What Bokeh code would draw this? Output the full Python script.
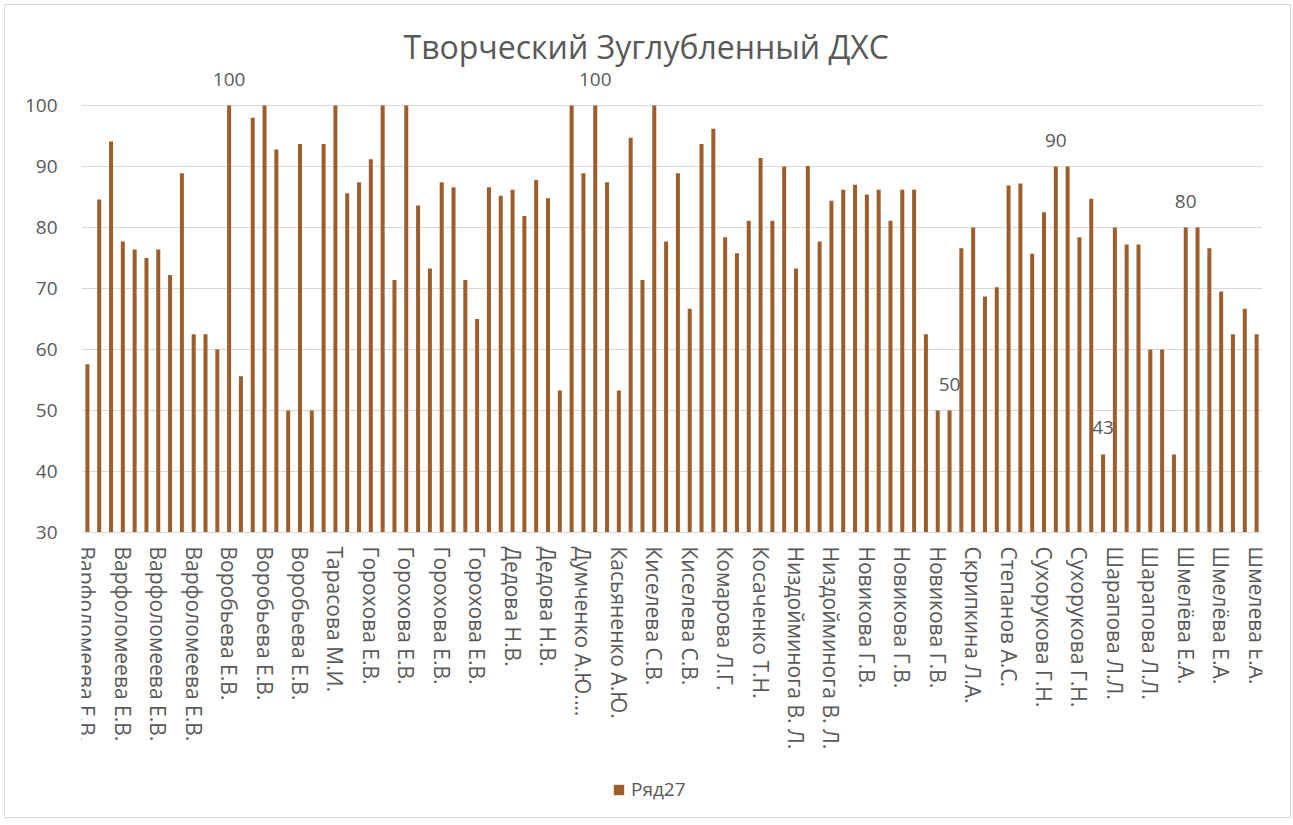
from bokeh.plotting import figure
from bokeh.models import Range1d, FixedTicker, Legend, LegendItem, ColumnDataSource
from bokeh.core.properties import value
from bokeh.embed import file_html
from bokeh.resources import INLINE

title_text = "Творческий Зуглубленный ДХС"
series_name = "Ряд27"

values = [57.6, 84.6, 94.1, 77.7, 76.4, 75.0, 76.4, 72.2, 88.9, 62.5,
          62.5, 60.0, 100, 55.6, 98.0, 100, 92.8, 50.0, 93.7, 50.0,
          93.7, 100, 85.6, 87.4, 91.2, 100, 71.4, 100, 83.6, 73.3,
          87.4, 86.6, 71.4, 65.0, 86.6, 85.2, 86.2, 81.9, 87.8, 84.8,
          53.3, 100, 88.9, 100, 87.4, 53.3, 94.7, 71.4, 100, 77.7,
          88.9, 66.7, 93.7, 96.2, 78.4, 75.8, 81.1, 91.4, 81.1, 90.0,
          73.3, 90.1, 77.7, 84.4, 86.2, 87.0, 85.4, 86.2, 81.1, 86.2,
          86.2, 62.5, 50.0, 50.0, 76.6, 80.0, 68.7, 70.2, 86.9, 87.2,
          75.7, 82.5, 90.0, 90.0, 78.4, 84.7, 42.8, 80.0, 77.2, 77.2,
          60.0, 60.0, 42.8, 80.0, 80.0, 76.6, 69.5, 62.5, 66.7, 62.5]

# category labels shown on the axis (every third bar)
tick_labels = (["Варфоломеева Е.В."] * 4 + ["Воробьева Е.В."] * 3 + ["Тарасова М.И."] +
               ["Горохова Е.В."] * 4 + ["Дедова Н.В."] * 2 +
               ["Думченко А.Ю.…", "Касьяненко А.Ю.", "Киселева С.В.", "Киселева С.В.",
                "Комарова Л.Г.", "Косаченко Т.Н.", "Низдойминога В. Л.", "Низдойминога В. Л.",
                "Новикова Г.В.", "Новикова Г.В.", "Новикова Г.В.", "Скрипкина Л.А.",
                "Степанов А.С.", "Сухорукова Г.Н.", "Сухорукова Г.Н.", "Шарапова Л.Л.",
                "Шарапова Л.Л.", "Шмелёва Е.А.", "Шмелёва Е.А.", "Шмелёва Е.А."])
label_step = 3
labeled_bars = [12, 43, 73, 82, 86, 93]
y_ticks = [30, 40, 50, 60, 70, 80, 90, 100]
y_base = 30

BAR = "#9E5E2C"
TXT = "#595959"
GRID = "#D9D9D9"
FONT = "Open Sans"

xs = list(range(len(values)))
src = ColumnDataSource(dict(x=xs, top=values))
lab_src = ColumnDataSource(dict(x=labeled_bars,
                                y=[values[i] for i in labeled_bars],
                                t=[str(round(values[i])) for i in labeled_bars]))

# frame reaches down to the legend; the category axis is pinned at y = 30
p = figure(frame_width=1181, frame_height=748, output_backend="svg", toolbar_location=None,
           x_range=Range1d(-0.5, len(values) - 0.5), y_range=Range1d(-16.39, 106.23),
           min_border_left=76, min_border_right=28, min_border_top=62,
           min_border_bottom=2)
p.styles = {"border": "1px solid #D9D9D9", "margin": "4px 0 0 4px"}
p.outline_line_color = None
p.background_fill_color = "white"
p.border_fill_color = "white"

p.title.text = title_text
p.title.align = "left"
p.title.offset = 322
p.title.standoff = 0
p.title.text_font = FONT
p.title.text_font_size = "32px"
p.title.text_font_style = "normal"
p.title.text_color = TXT

r = p.vbar(x="x", top="top", bottom=y_base, width=0.34, source=src,
           fill_color=BAR, line_color=None)

p.text(x="x", y="y", text="t", source=lab_src, text_align="center",
       text_baseline="bottom", y_offset=-20, text_font=value(FONT),
       text_font_size="19px", text_color=TXT)

p.xgrid.grid_line_color = None
p.ygrid.grid_line_color = GRID
p.ygrid.ticker = FixedTicker(ticks=y_ticks)

p.yaxis.ticker = FixedTicker(ticks=y_ticks)
p.yaxis.axis_line_color = None
p.yaxis.major_tick_line_color = None
p.yaxis.minor_tick_line_color = None
p.yaxis.major_label_text_font = FONT
p.yaxis.major_label_text_font_size = "19px"
p.yaxis.major_label_text_color = TXT
p.yaxis.major_label_standoff = 18

ticks = [i * label_step for i in range(len(tick_labels))]
p.xaxis.fixed_location = y_base
p.xaxis.ticker = FixedTicker(ticks=ticks)
p.xaxis.major_label_overrides = {t: s for t, s in zip(ticks, tick_labels)}
p.xaxis.major_label_orientation = "vertical"
p.xaxis.axis_line_color = GRID
p.xaxis.major_tick_line_color = None
p.xaxis.minor_tick_line_color = None
p.xaxis.major_label_text_font = FONT
p.xaxis.major_label_text_font_size = "21px"
p.xaxis.major_label_text_color = TXT
p.xaxis.major_label_standoff = 8

legend = Legend(items=[LegendItem(label=series_name, renderers=[r])],
                location=(531, 13), orientation="horizontal",
                glyph_width=13, glyph_height=13, label_standoff=6,
                label_text_font=FONT, label_text_font_size="19px",
                label_text_color=TXT, border_line_color=None,
                background_fill_alpha=0, padding=0, margin=0)
p.add_layout(legend)

open("out.html", "w").write(file_html(p, INLINE))
